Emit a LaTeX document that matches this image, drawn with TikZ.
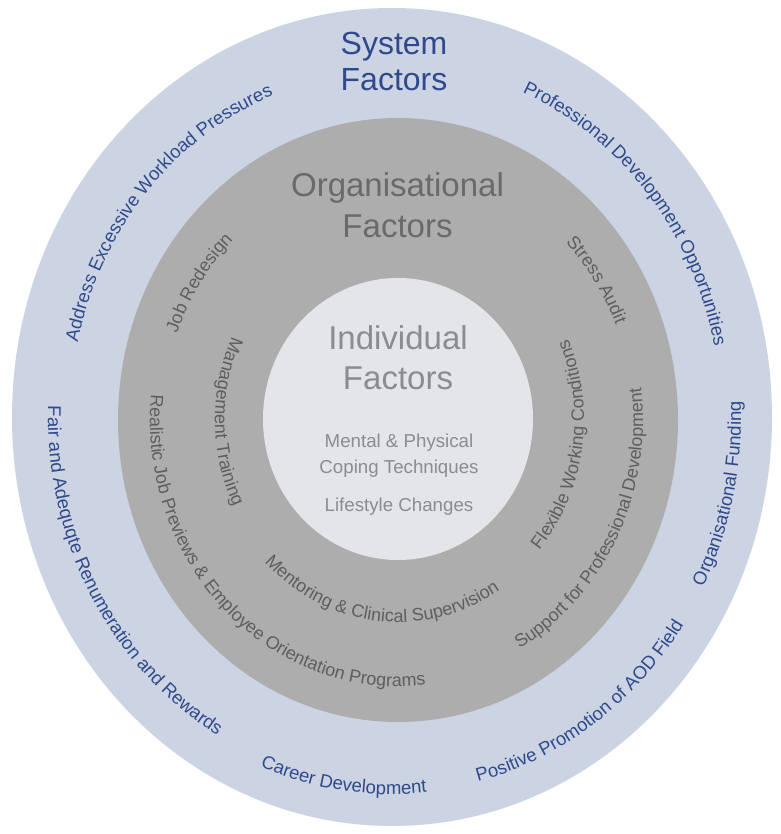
\documentclass[tikz,border=0pt]{standalone}
\usepackage{fontspec}
\setmainfont{Liberation Sans}
\usetikzlibrary{decorations.text}
\definecolor{ringout}{HTML}{CCD3E3}
\definecolor{ringmid}{HTML}{ADADAD}
\definecolor{ringin}{HTML}{E3E5E9}
\definecolor{sysblue}{HTML}{2F4A8C}
\definecolor{orgtext}{HTML}{5E5E5E}
\definecolor{orgtitle}{HTML}{6A6A6A}
\definecolor{indtext}{HTML}{8A8C91}
\newcommand\outfont{\fontsize{18.5}{20}\selectfont}
\newcommand\midfont{\fontsize{18}{20}\selectfont}
% #1 centre, #2 start angle, #3 end angle, #4 x radius, #5 colour, #6 font, #7 text
\newcommand\arctext[7]{%
  \pgfmathsetmacro\myry{1.075*#4}%
  \path[decorate, decoration={text along path, text align=center, text color=#5, text={|#6|#7}}]
    (#1) ++(#2:#4 and \myry) arc[start angle=#2, end angle=#3, x radius=#4, y radius=\myry];
}
\begin{document}
\begin{tikzpicture}[x=1pt,y=1pt,
  title/.style={anchor=base, inner sep=0pt},
  ]
\useasboundingbox (0,0) rectangle (780,834);
\fill[white] (0,0) rectangle (780,834);
% rings
\coordinate (oc) at (392,417);
\coordinate (gc) at (398,414);
\coordinate (ic) at (398,415);
\fill[ringout] (oc) ellipse [x radius=380, y radius=409];
\fill[ringmid] (gc) ellipse [x radius=280, y radius=302];
\fill[ringin] (ic) ellipse [x radius=135, y radius=141];
% titles
\node[title, text=sysblue, font=\fontsize{32}{36}\selectfont] (sys1) at (394,779) {System};
\node[title, text=sysblue, font=\fontsize{32}{36}\selectfont] (sys2) at (394,743) {Factors};
\node[title, text=orgtitle, font=\fontsize{33}{38}\selectfont] (org1) at (397.5,637) {Organisational};
\node[title, text=orgtitle, font=\fontsize{33}{38}\selectfont] (org2) at (397.5,596) {Factors};
\node[title, text=indtext, font=\fontsize{33}{38}\selectfont] (ind1) at (398,484) {Individual};
\node[title, text=indtext, font=\fontsize{33}{38}\selectfont] (ind2) at (398,444) {Factors};
\node[title, text=indtext, font=\fontsize{18.7}{21}\selectfont] (ind3) at (399,386) {Mental \& Physical};
\node[title, text=indtext, font=\fontsize{18.7}{21}\selectfont] (ind4) at (399,360) {Coping Techniques};
\node[title, text=indtext, font=\fontsize{18.7}{21}\selectfont] (ind5) at (399,322) {Lifestyle Changes};
% outer ring texts
\arctext{oc}{208.2}{68.2}{322}{sysblue}{\outfont}{Address Excessive Workload Pressures}
\arctext{oc}{110.4}{-29.6}{329}{sysblue}{\outfont}{Professional Development Opportunities}
\arctext{oc}{-83}{57}{349}{sysblue}{\outfont}{Organisational Funding}
\arctext{oc}{-126.1}{13.9}{350}{sysblue}{\outfont}{Positive Promotion of AOD Field}
\arctext{oc}{-167.7}{-27.7}{351}{sysblue}{\outfont}{Career Development}
\arctext{oc}{140}{280}{344}{sysblue}{\outfont}{Fair and Adequqte Renumeration and Rewards}
% middle ring texts
\arctext{gc}{215.7}{75.7}{235}{orgtext}{\midfont}{Job Redesign}
\arctext{gc}{104.9}{-35.1}{235}{orgtext}{\midfont}{Stress Audit}
\arctext{gc}{110.6}{250.6}{183}{orgtext}{\midfont}{Management Training}
\arctext{gc}{156}{296}{248}{orgtext}{\midfont}{Realistic Job Previews {\&} Employee Orientation Programs}
\arctext{gc}{194}{334}{188}{orgtext}{\midfont}{Mentoring {\&} Clinical Supervision}
\arctext{gc}{-78.7}{61.3}{186}{orgtext}{\midfont}{Flexible Working Conditions}
\arctext{gc}{-97.5}{42.5}{245}{orgtext}{\midfont}{Support for Professional Development}
\end{tikzpicture}
\end{document}
